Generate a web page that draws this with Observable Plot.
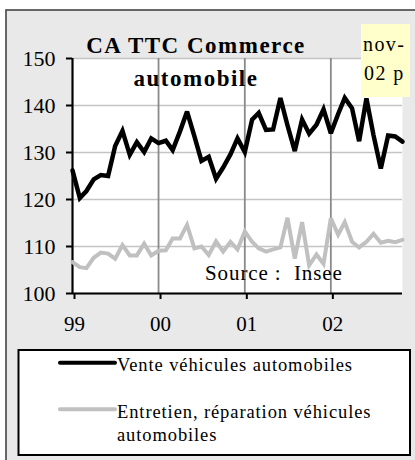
<!DOCTYPE html>
<html><head><meta charset="utf-8">
<script src="https://cdn.jsdelivr.net/npm/d3@7"></script>
<script src="https://cdn.jsdelivr.net/npm/@observablehq/plot@0.6"></script>
<style>
body{margin:0;background:#fff;}
#wrap{position:relative;width:415px;height:460px;overflow:hidden;}
#wrap svg{position:absolute;left:0;top:0;}
</style></head><body><div id="wrap"></div>
<script>
// Monthly index values, Jan 1999 .. Nov 2002 (p = provisional)
const vente = [126.2,120.3,121.8,124.3,125.2,125.0,131.4,134.6,129.5,132.2,
               130.1,133.0,132.0,132.5,130.5,134.5,138.7,133.5,128.2,129.1,
               124.4,126.8,129.6,133.0,130.1,137.0,138.4,134.8,134.9,141.6,
               135.8,130.3,137.0,134.0,135.9,139.2,134.1,138.2,141.6,139.4,
               132.4,141.5,133.7,126.6,133.6,133.4,132.3];
const entretien = [106.7,105.6,105.4,107.6,108.7,108.5,107.4,110.3,108.1,108.1,
                   110.6,108.1,109.1,109.2,111.7,111.7,114.6,109.6,110.0,108.2,
                   111.1,108.9,111.0,109.4,113.2,111.0,109.6,108.9,109.4,109.8,
                   116.1,107.4,115.2,106.0,108.3,106.3,116.0,112.5,115.2,111.0,
                   109.8,111.0,112.7,110.8,111.2,110.9,111.4];
const yTicks = [100,110,120,130,140,150];
const yearTicks = [1999,2000,2001,2002];
const yearLabels = ["99","00","01","02"];
const seriesNames = ["Vente véhicules automobiles", "Entretien, réparation véhicules", "automobiles"];
const seriesColors = ["black", "#c0c0c0"];
const titleLines = ["CA TTC Commerce", "automobile"];
const noteLines = ["nov-", "02 p"];
const sourceText = "Source :\u00a0 Insee";

const start = new Date(Date.UTC(1999,0,1));
const dates = vente.map((v,i)=>d3.utcMonth.offset(start,i));
const data = dates.map((d,i)=>({date:d, vente:vente[i], entretien:entretien[i]}));
const yearDates = yearTicks.map(y=>new Date(Date.UTC(y,0,1)));
const labelOf = new Map(yearDates.map((d,i)=>[+d, yearLabels[i]]));
const FONT = "'Liberation Serif','Times New Roman',serif";
const W=415, H=460;
const wrap = document.getElementById("wrap");

// background panel
const bg = d3.create("svg").attr("width",W).attr("height",H);
bg.append("rect").attr("x",6).attr("y",10).attr("width",W+10).attr("height",H+10)
  .attr("fill","#e9e9e9").attr("stroke","#444").attr("stroke-width",1.6);
wrap.append(bg.node());

const chart = Plot.plot({
  width:W, height:H, marginLeft:72, marginRight:13, marginTop:58, marginBottom:167,
  style:{background:"transparent", fontFamily:FONT, overflow:"visible", color:"black"},
  x:{type:"utc", domain:[dates[0], dates[dates.length-1]]},
  y:{domain:[100,150]},
  marks:[
    Plot.frame({fill:"white", stroke:null}),
    Plot.ruleY(yTicks,{stroke:"#c4c4c4", strokeWidth:1.6}),
    Plot.ruleX(yearDates,{stroke:"#8a8a8a", strokeWidth:1.8}),
    Plot.axisY({ticks:yTicks, tickSize:6, tickPadding:11, fontSize:22, strokeWidth:2, label:null, tickFormat:d=>String(d)}),
    Plot.axisX({ticks:yearDates, tickSize:6, tickPadding:17, fontSize:21, strokeWidth:2, label:null, tickFormat:d=>labelOf.get(+d), dx:2}),
    Plot.ruleX([dates[0]],{stroke:"black", strokeWidth:2}),
    Plot.ruleY([100],{stroke:"black", strokeWidth:2}),
    Plot.line(data,{x:"date", y:"entretien", stroke:seriesColors[1], strokeWidth:4, strokeLinejoin:"miter", strokeMiterlimit:3}),
    Plot.line(data,{x:"date", y:"vente", stroke:seriesColors[0], strokeWidth:4.5, strokeLinejoin:"miter", strokeMiterlimit:3})
  ]
});
wrap.append(chart);

// overlay: title, note, source, legend
const ov = d3.create("svg").attr("width",W).attr("height",H)
  .style("font-family",FONT);
ov.append("text").attr("x",196).attr("y",53).attr("text-anchor","middle")
  .attr("font-weight","bold").attr("font-size",23).attr("letter-spacing",1.5).text(titleLines[0]);
ov.append("text").attr("x",196).attr("y",86).attr("text-anchor","middle")
  .attr("font-weight","bold").attr("font-size",23).attr("letter-spacing",1.5).text(titleLines[1]);
ov.append("rect").attr("x",361).attr("y",24).attr("width",49).attr("height",73).attr("fill","#ffffcc");
ov.append("text").attr("x",363).attr("y",51).attr("font-size",20).attr("letter-spacing",1.4).text(noteLines[0]);
ov.append("text").attr("x",364).attr("y",80).attr("font-size",20).attr("letter-spacing",1.4).text(noteLines[1]);
ov.append("text").attr("x",205).attr("y",280).attr("font-size",21).attr("letter-spacing",0.9).text(sourceText);

ov.append("rect").attr("x",18.5).attr("y",350).attr("width",391.5).attr("height",105)
  .attr("fill","white").attr("stroke","black").attr("stroke-width",2);
ov.append("line").attr("x1",60).attr("x2",115).attr("y1",362.7).attr("y2",362.7)
  .attr("stroke",seriesColors[0]).attr("stroke-width",4).attr("stroke-linecap","round");
ov.append("line").attr("x1",60).attr("x2",115).attr("y1",409.3).attr("y2",409.3)
  .attr("stroke",seriesColors[1]).attr("stroke-width",4).attr("stroke-linecap","round");
ov.append("text").attr("x",117).attr("y",371).attr("font-size",18.5).attr("letter-spacing",0.9).text(seriesNames[0]);
ov.append("text").attr("x",117).attr("y",417.5).attr("font-size",18.5).attr("letter-spacing",0.9).text(seriesNames[1]);
ov.append("text").attr("x",117).attr("y",440.5).attr("font-size",18.5).attr("letter-spacing",0.9).text(seriesNames[2]);
wrap.append(ov.node());
</script></body></html>
